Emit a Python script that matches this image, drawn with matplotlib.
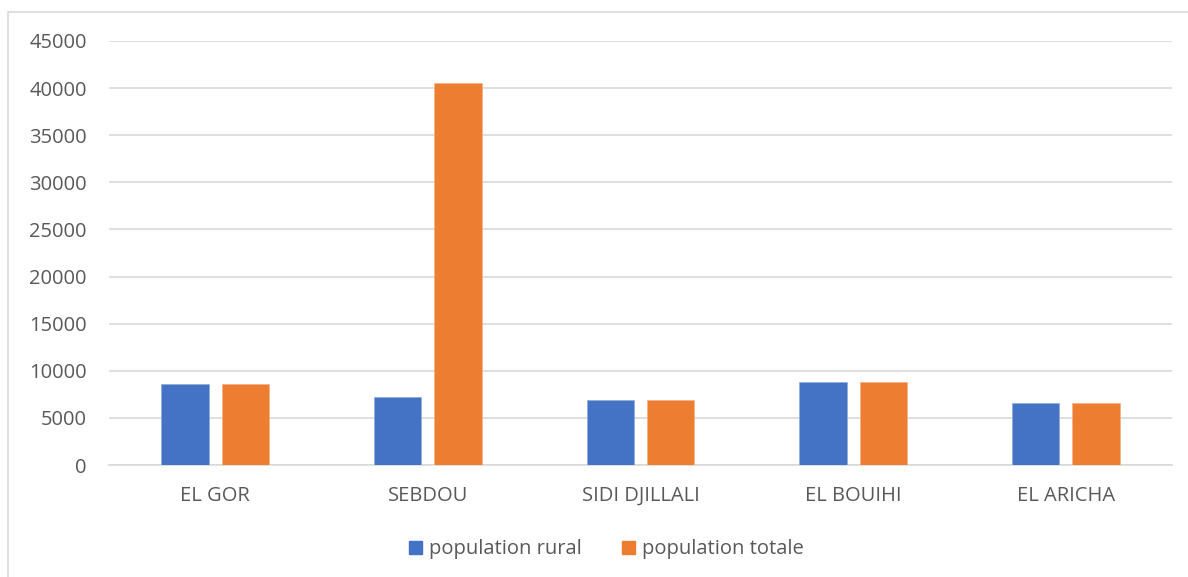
import matplotlib.pyplot as plt
import numpy as np
from matplotlib.patches import Rectangle, Patch

communes = ['EL GOR', 'SEBDOU', 'SIDI DJILLALI', 'EL BOUIHI', 'EL ARICHA']
pop_rurale = [8610, 7270, 6950, 8860, 6630]
pop_totale = [8610, 40500, 6950, 8860, 6630]

plt.rcParams['font.family'] = ['Open Sans', 'DejaVu Sans']

fig = plt.figure(figsize=(11.88, 5.77), dpi=100)
ax = fig.add_axes([0.0918, 0.194, 0.8947, 0.735])

# cadre du graphique
fig.patches.append(Rectangle((8 / 1188, -0.01), 1.0, 1 - 12 / 577 + 0.01,
                             transform=fig.transFigure, fill=False,
                             edgecolor='#d9d9d9', linewidth=1.2))

x = np.arange(len(communes))
w = 0.223
ax.bar(x - 0.142, pop_rurale, w, color='#4472C4', edgecolor='#8faadc', linewidth=0.5,
       label='population rural', zorder=3)
ax.bar(x + 0.142, pop_totale, w, color='#ED7D31', edgecolor='#f4b183', linewidth=0.5,
       label='population totale', zorder=3)

ax.set_xlim(-0.5, len(communes) - 0.5)
ax.set_ylim(0, 45000)
ax.set_yticks(np.arange(0, 45001, 5000))
ax.set_xticks(x)
ax.set_xticklabels(communes)
ax.yaxis.grid(True, color='#d9d9d9', linewidth=1.2, zorder=0)
ax.tick_params(axis='both', length=0, labelsize=14.5, labelcolor='#595959')
ax.tick_params(axis='y', pad=16)
ax.tick_params(axis='x', pad=15)
for side in ['top', 'right', 'left']:
    ax.spines[side].set_visible(False)
ax.spines['bottom'].set_color('#d9d9d9')
ax.spines['bottom'].set_linewidth(1.2)

handles = [Patch(color='#4472C4'), Patch(color='#ED7D31')]
fig.legend(handles, ['population rural', 'population totale'], loc='center',
           bbox_to_anchor=(0.5105, 0.048), ncol=2, frameon=False, fontsize=14.5,
           labelcolor='#595959', handlelength=0.65, handleheight=0.65,
           handletextpad=0.35, columnspacing=2.0)

fig.savefig('out.png', dpi=100)
